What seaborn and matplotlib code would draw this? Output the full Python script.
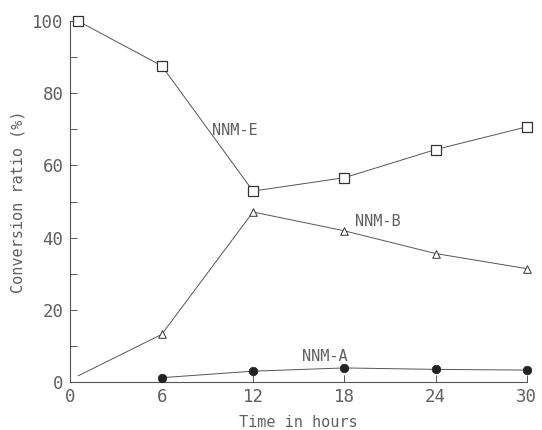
import matplotlib
matplotlib.use("Agg")
import matplotlib.pyplot as plt
import seaborn as sns
import pandas as pd
from matplotlib.ticker import MultipleLocator

e_time = [0.5, 6, 12, 18, 24, 30]
e_vals = [100, 87.6, 52.9, 56.6, 64.4, 70.7]
b_time = [0.5, 6, 12, 18, 24, 30]
b_vals = [1.7, 13.2, 47.1, 41.9, 35.6, 31.4]
a_time = [6, 12, 18, 24, 30]
a_vals = [1.2, 3.0, 3.9, 3.5, 3.3]
x_ticks = [0, 6, 12, 18, 24, 30]
y_ticks = [0, 20, 40, 60, 80, 100]

sns.set_style("ticks")
plt.rcParams['font.family'] = ['DejaVu Sans Mono', 'DejaVu Sans']

fig = plt.figure(figsize=(5.42, 4.30), dpi=100)
ax = fig.add_axes([0.130, 0.1116, 0.842, 0.8394])

gray = "#606060"
lc = "#555555"
dfE = pd.DataFrame({"t": e_time, "v": e_vals})
dfB = pd.DataFrame({"t": b_time, "v": b_vals})
dfA = pd.DataFrame({"t": a_time, "v": a_vals})

for df in (dfE, dfB, dfA):
    sns.lineplot(data=df, x="t", y="v", ax=ax, color=lc, lw=0.7, clip_on=False)

sns.scatterplot(data=dfE, x="t", y="v", ax=ax, marker="s", s=48,
                facecolor="white", edgecolor="#333333", linewidth=0.9, clip_on=False, zorder=3)
sns.scatterplot(data=dfB.iloc[1:], x="t", y="v", ax=ax, marker="^", s=30,
                facecolor="white", edgecolor="#333333", linewidth=0.7, clip_on=False, zorder=3)
sns.scatterplot(data=dfA, x="t", y="v", ax=ax, marker="o", s=38,
                facecolor="#222222", edgecolor="#222222", linewidth=0.5, clip_on=False, zorder=3)

ax.set_xlim(0, 30)
ax.set_ylim(0, 100)
ax.set_xticks(x_ticks)
ax.set_yticks(y_ticks)
ax.yaxis.set_minor_locator(MultipleLocator(10))
ax.tick_params(axis="both", which="both", direction="in", colors=lc,
               labelcolor=gray, labelsize=12.5, length=5, width=0.7)
ax.tick_params(axis="x", pad=4)
ax.tick_params(axis="y", pad=5)
for s in ("top", "right"):
    ax.spines[s].set_visible(False)
for s in ("left", "bottom"):
    ax.spines[s].set_color(lc)
    ax.spines[s].set_linewidth(0.8)

ax.set_xlabel("Time in hours", fontsize=11, color=gray, labelpad=7)
ax.set_ylabel("Conversion ratio (%)", fontsize=11, color=gray, labelpad=5)

ax.text(10.8, 69.8, "NNM-E", fontsize=11, color=gray, ha="center", va="center")
ax.text(20.2, 44.6, "NNM-B", fontsize=11, color=gray, ha="center", va="center")
ax.text(16.7, 7.0, "NNM-A", fontsize=11, color=gray, ha="center", va="center")

fig.savefig("out.png", dpi=100)
